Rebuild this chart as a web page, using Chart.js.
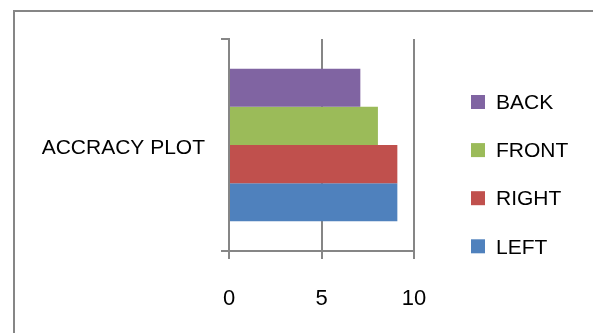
<!DOCTYPE html>
<html>
<head>
<meta charset="utf-8">
<script src="https://cdn.jsdelivr.net/npm/chart.js@4/dist/chart.umd.min.js"></script>
<style>
  html, body { margin: 0; padding: 0; background: #ffffff; }
  #wrap { width: 593px; height: 333px; }
</style>
</head>
<body>
<div id="wrap"><canvas id="c" width="593" height="333"></canvas></div>
<script>
// Category and series data
const categories = ['ACCRACY PLOT'];
const seriesNames = ['BACK', 'FRONT', 'RIGHT', 'LEFT'];
const backValues = [7.1];
const frontValues = [8.05];
const rightValues = [9.1];
const leftValues = [9.1];
const seriesColors = ['#8064A2', '#9BBB59', '#C0504D', '#4F81BD'];
const xTicks = [0, 5, 10];

const FONT = 'Liberation Sans, Arial, sans-serif';
const LINE = '#868686';

// Frame line along the left and top of the drawing
const framePlugin = {
  id: 'frame',
  beforeDraw(chart) {
    const ctx = chart.ctx;
    ctx.save();
    ctx.fillStyle = '#ffffff';
    ctx.fillRect(0, 0, chart.width, chart.height);
    ctx.strokeStyle = LINE;
    ctx.lineWidth = 2;
    ctx.beginPath();
    ctx.moveTo(14, chart.height + 5);
    ctx.lineTo(14, 11);
    ctx.lineTo(chart.width + 5, 11);
    ctx.stroke();
    ctx.restore();
  }
};

// Vertical legend with square swatches, drawn from the dataset list
const sideLegend = {
  id: 'sideLegend',
  afterDraw(chart) {
    const ctx = chart.ctx;
    const sets = chart.data.datasets;
    const x0 = 471, box = 14, textX = 496, firstY = 102, step = 48.1;
    ctx.save();
    ctx.font = '21px ' + FONT;
    ctx.textBaseline = 'middle';
    ctx.textAlign = 'left';
    sets.forEach((ds, i) => {
      const cy = firstY + i * step;
      ctx.fillStyle = ds.backgroundColor;
      ctx.fillRect(x0, cy - box / 2, box, box);
      ctx.fillStyle = '#000000';
      ctx.fillText(ds.label, textX, cy + 1.5);
    });
    ctx.restore();
  }
};

const seriesValues = [backValues, frontValues, rightValues, leftValues];

new Chart(document.getElementById('c'), {
  type: 'bar',
  data: {
    labels: categories,
    datasets: seriesNames.map((name, i) => ({
      label: name,
      data: seriesValues[i],
      backgroundColor: seriesColors[i],
      borderWidth: 0,
      categoryPercentage: 0.72,
      barPercentage: 1.0
    }))
  },
  options: {
    indexAxis: 'y',
    responsive: false,
    animation: false,
    devicePixelRatio: 1,
    layout: { padding: { left: 0, top: 39, right: 179, bottom: 0 } },
    plugins: {
      legend: { display: false },
      tooltip: { enabled: false }
    },
    scales: {
      x: {
        type: 'linear',
        min: 0,
        max: 10,
        afterBuildTicks(scale) {
          scale.ticks = xTicks.map(v => ({ value: v }));
        },
        afterFit(scale) { scale.height = 82; },
        grid: {
          color: LINE,
          lineWidth: 2,
          drawTicks: true,
          tickLength: 8,
          tickColor: LINE
        },
        border: { display: true, color: LINE, width: 2 },
        ticks: {
          color: '#000000',
          font: { family: FONT, size: 22 },
          padding: 27,
          maxRotation: 0
        }
      },
      y: {
        type: 'category',
        afterFit(scale) { scale.width = 229; },
        grid: {
          drawOnChartArea: false,
          drawTicks: true,
          tickLength: 8,
          color: LINE,
          tickColor: LINE,
          lineWidth: 2,
          offset: true
        },
        border: { display: true, color: LINE, width: 2 },
        ticks: {
          color: '#000000',
          font: { family: FONT, size: 21 },
          padding: 16,
          labelOffset: 3
        }
      }
    }
  },
  plugins: [framePlugin, sideLegend]
});
</script>
</body>
</html>
